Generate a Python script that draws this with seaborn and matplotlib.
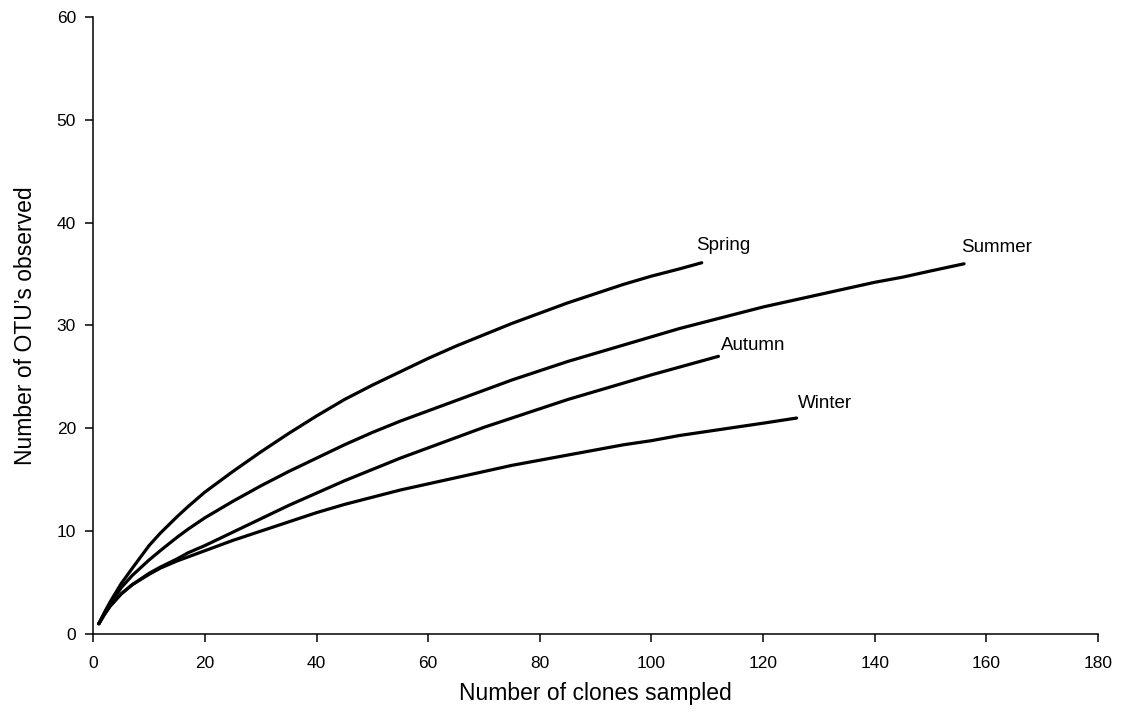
import numpy as np
import pandas as pd
import matplotlib
matplotlib.use("Agg")
import matplotlib.pyplot as plt
import seaborn as sns

# rarefaction curves
spring_x = [1, 2, 3, 5, 7, 10, 12, 15, 17, 20, 25, 30, 35, 40, 45, 50, 55,
            60, 65, 70, 75, 80, 85, 90, 95, 100, 105, 109]
spring_y = [1.0, 2.1, 3.1, 4.9, 6.4, 8.6, 9.8, 11.4, 12.4, 13.8, 15.8, 17.7,
            19.5, 21.2, 22.8, 24.2, 25.5, 26.8, 28.0, 29.1, 30.2, 31.2, 32.2,
            33.1, 34.0, 34.8, 35.5, 36.1]

summer_x = [1, 2, 3, 5, 7, 10, 12, 15, 17, 20, 25, 30, 35, 40, 45, 50, 55, 60,
            65, 70, 75, 80, 85, 90, 95, 100, 105, 110, 115, 120, 125, 130, 135,
            140, 145, 150, 156]
summer_y = [1.0, 2.0, 2.9, 4.5, 5.7, 7.2, 8.1, 9.4, 10.2, 11.3, 12.9, 14.4,
            15.8, 17.1, 18.4, 19.6, 20.7, 21.7, 22.7, 23.7, 24.7, 25.6, 26.5,
            27.3, 28.1, 28.9, 29.7, 30.4, 31.1, 31.8, 32.4, 33.0, 33.6, 34.2,
            34.7, 35.3, 36.0]

autumn_x = [1, 2, 3, 5, 7, 10, 12, 15, 17, 20, 25, 30, 35, 40, 45, 50, 55, 60,
            65, 70, 75, 80, 85, 90, 95, 100, 106, 112]
autumn_y = [1.0, 1.9, 2.7, 3.9, 4.8, 5.9, 6.5, 7.3, 7.9, 8.6, 9.9, 11.2, 12.5,
            13.7, 14.9, 16.0, 17.1, 18.1, 19.1, 20.1, 21.0, 21.9, 22.8, 23.6,
            24.4, 25.2, 26.1, 27.0]

winter_x = [1, 2, 3, 5, 7, 10, 12, 15, 17, 20, 25, 30, 35, 40, 45, 50, 55, 60,
            65, 70, 75, 80, 85, 90, 95, 100, 105, 110, 115, 120, 126]
winter_y = [1.0, 1.9, 2.7, 3.9, 4.8, 5.8, 6.4, 7.1, 7.5, 8.1, 9.1, 10.0, 10.9,
            11.8, 12.6, 13.3, 14.0, 14.6, 15.2, 15.8, 16.4, 16.9, 17.4, 17.9,
            18.4, 18.8, 19.3, 19.7, 20.1, 20.5, 21.0]

seasons = ["Spring", "Summer", "Autumn", "Winter"]
label_x = [108.0, 155.5, 112.4, 126.3]
label_y = [37.3, 37.1, 27.6, 21.95]

frames = []
for name, xs, ys in zip(seasons, [spring_x, summer_x, autumn_x, winter_x],
                        [spring_y, summer_y, autumn_y, winter_y]):
    frames.append(pd.DataFrame({"clones": xs, "otus": ys, "season": name}))
df = pd.concat(frames, ignore_index=True)

sns.set_style("ticks")
plt.rcParams["font.family"] = ["Liberation Sans", "DejaVu Sans"]
plt.rcParams["text.color"] = "black"
plt.rcParams["axes.labelcolor"] = "black"
plt.rcParams["xtick.color"] = "black"
plt.rcParams["ytick.color"] = "black"

fig = plt.figure(figsize=(11.21, 7.13), dpi=100)
ax = fig.add_axes([0.0832, 0.1108, 0.8963, 0.8654])

sns.lineplot(data=df, x="clones", y="otus", hue="season", units="season",
             estimator=None, palette=["black"] * 4, linewidth=2.3,
             legend=False, ax=ax)

for name, lx, ly in zip(seasons, label_x, label_y):
    ax.text(lx, ly, name, fontsize=13.5, ha="left", va="baseline", color="black")

ax.set_xlim(0, 180)
ax.set_ylim(0, 60)
ax.set_xticks(np.arange(0, 181, 20))
ax.set_yticks(np.arange(0, 61, 10))
ax.set_xlabel("Number of clones sampled", fontsize=16.5, labelpad=8)
ax.set_ylabel("Number of OTU\u2019s observed", fontsize=16.5, labelpad=14)
ax.tick_params(axis="both", labelsize=12.5, length=5.5, width=1.1,
               color="black", labelcolor="black", direction="out")
ax.tick_params(axis="x", pad=10)
ax.tick_params(axis="y", pad=7)
sns.despine(ax=ax)
for sp in ["left", "bottom"]:
    ax.spines[sp].set_linewidth(1.1)
    ax.spines[sp].set_color("black")

fig.savefig("out.png", dpi=100)
